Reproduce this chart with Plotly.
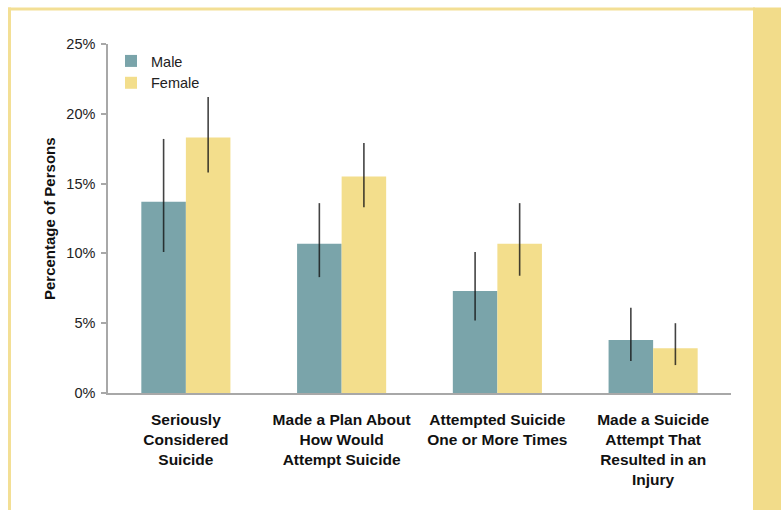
import plotly.graph_objects as go

categories = [
    "Seriously<br>Considered<br>Suicide",
    "Made a Plan About<br>How Would<br>Attempt Suicide",
    "Attempted Suicide<br>One or More Times",
    "Made a Suicide<br>Attempt That<br>Resulted in an<br>Injury",
]
male = [13.7, 10.7, 7.3, 3.8]
male_upper = [18.2, 13.6, 10.1, 6.1]
male_lower = [10.1, 8.3, 5.2, 2.3]
female = [18.3, 15.5, 10.7, 3.2]
female_upper = [21.2, 17.9, 13.6, 5.0]
female_lower = [15.8, 13.3, 8.4, 2.0]
y_ticks = [0, 5, 10, 15, 20, 25]

W, H = 781, 510
ML, MR, MT, MB = 108, 50, 44, 117
PW = W - ML - MR
PH = H - MT - MB

def px(x):
    return (x - ML) / PW

def py(y):
    return (H - MB - y) / PH

MALE_C = "#7aa4aa"
FEMALE_C = "#f3de8c"
ERR_C = "rgba(20,20,20,0.8)"

fig = go.Figure()
fig.add_trace(go.Bar(
    x=categories, y=male, name="Male", marker_color=MALE_C, marker_line_width=0,
    error_y=dict(type="data", symmetric=False,
                 array=[u - v for u, v in zip(male_upper, male)],
                 arrayminus=[v - l for v, l in zip(male, male_lower)],
                 color=ERR_C, thickness=1.6, width=0),
))
fig.add_trace(go.Bar(
    x=categories, y=female, name="Female", marker_color=FEMALE_C, marker_line_width=0,
    error_y=dict(type="data", symmetric=False,
                 array=[u - v for u, v in zip(female_upper, female)],
                 arrayminus=[v - l for v, l in zip(female, female_lower)],
                 color=ERR_C, thickness=1.6, width=0),
))

FRAME = "#f3df95"
shapes = [
    dict(type="rect", xref="paper", yref="paper", x0=px(8), x1=px(755), y0=py(7.5), y1=py(10.5),
         fillcolor=FRAME, line_width=0, layer="below"),
    dict(type="rect", xref="paper", yref="paper", x0=px(8), x1=px(11), y0=py(7.5), y1=py(512),
         fillcolor=FRAME, line_width=0, layer="below"),
    dict(type="rect", xref="paper", yref="paper", x0=px(753), x1=px(782), y0=py(7.5), y1=py(512),
         fillcolor="#f2dc8a", line_width=0, layer="below"),
]

fig.update_layout(
    width=W, height=H,
    margin=dict(l=ML, r=MR, t=MT, b=MB, autoexpand=False),
    paper_bgcolor="white", plot_bgcolor="white",
    barmode="group", bargap=0.428, bargroupgap=0,
    font=dict(family="Liberation Sans, Arial, sans-serif", color="#222222"),
    showlegend=True,
    legend=dict(x=px(111), y=py(45), xanchor="left", yanchor="top",
                font=dict(size=14.5, color="#222222"), bgcolor="rgba(0,0,0,0)",
                tracegroupgap=0),
    shapes=shapes,
    annotations=[dict(text="<b>Percentage of Persons</b>", textangle=-90,
                      xref="paper", yref="paper", x=px(49), y=py(219),
                      xanchor="center", yanchor="middle", showarrow=False,
                      font=dict(size=15, color="#111111"))],
)
fig.update_yaxes(range=[0, 25], tickvals=y_ticks, ticktext=[f"{v}%" for v in y_ticks],
                 showgrid=False, zeroline=False, showline=True, linecolor="#a8a8a8",
                 linewidth=1.5, ticks="outside", ticklen=5, tickcolor="#a8a8a8",
                 tickwidth=1.5, ticklabelstandoff=3, tickfont=dict(size=14.5, color="#222222"))
fig.update_xaxes(showgrid=False, showline=True, linecolor="#a8a8a8", linewidth=2,
                 ticks="", ticklabelstandoff=11,
                 tickfont=dict(size=15.5, color="#111111", family="Liberation Sans, Arial, sans-serif"),
                 tickangle=0)
fig.update_xaxes(tickprefix="<b>", ticksuffix="</b>")

fig.write_html("out.html")
